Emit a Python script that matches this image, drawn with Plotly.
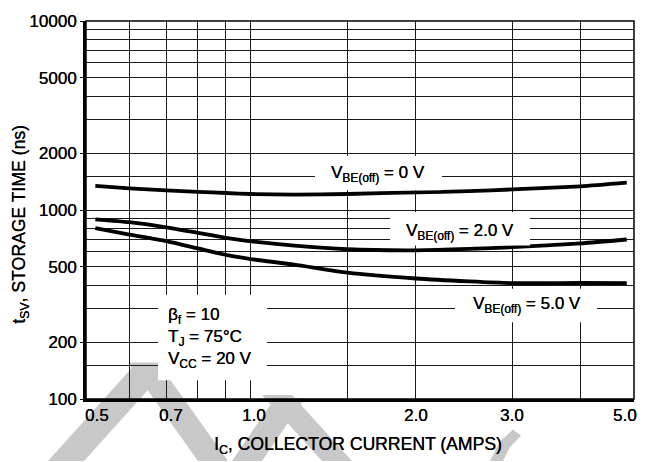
import math
import plotly.graph_objects as go

# Collector current (A) sample points along each storage-time curve
ic_amps = [0.52, 0.6, 0.7, 0.8, 0.9, 1.0, 1.2, 1.5, 2.0, 2.5, 3.0, 4.0, 4.85]

# Storage time t_sv (ns) for each base-emitter turn-off voltage
tsv_vbe_0v = [1340, 1300, 1270, 1248, 1230, 1215, 1205, 1215, 1240, 1258, 1285, 1335, 1395]
tsv_vbe_2v = [893, 862, 810, 757, 712, 683, 648, 620, 612, 622, 636, 666, 698]
tsv_vbe_5v = [803, 741, 684, 626, 579, 550, 514, 466, 434, 419, 410, 411, 410]

# Axis ticks / grid
x_grid = [0.5, 0.6, 0.7, 0.8, 0.9, 1.0, 1.5, 2.0, 3.0, 4.0, 5.0]
x_ticks = [0.5, 0.7, 1.0, 2.0, 3.0, 5.0]
x_ticktext = ["0.5", "0.7", "1.0", "2.0", "3.0", "5.0"]
y_ticks = [100, 200, 500, 1000, 2000, 5000, 10000]
y_ticktext = ["100", "200", "500", "1000", "2000", "5000", "10000"]
y_minor = [150, 300, 400, 600, 700, 800, 900, 1500, 3000, 4000, 6000, 7000, 8000, 9000]

FONT = "Liberation Sans, Arial, sans-serif"
SHADOW = "0.25px 0 0 black"
W, H = 648, 462
L, R, T, B = 86, 14, 15, 63
PW, PH = W - L - R, H - T - B
GRID = "#1a1a1a"


def px(xp, yp):
    """Pixel position on the page -> paper coordinates."""
    return (xp - L) / PW, (H - B - yp) / PH


def font(size=17):
    return dict(family=FONT, size=size, color="black", shadow=SHADOW)


fig = go.Figure()
for ys in (tsv_vbe_0v, tsv_vbe_2v, tsv_vbe_5v):
    fig.add_trace(go.Scatter(
        x=ic_amps, y=ys, mode="lines",
        line=dict(color="black", width=3.8, shape="spline", smoothing=0.6),
        showlegend=False, hoverinfo="skip",
    ))

# light grey watermark strokes behind the grid
wm_polys = [
    [(48, 462), (84, 462), (170, 365), (134, 365)],
    [(128, 362), (158, 362), (228, 462), (198, 462)],
    [(232, 462), (262, 462), (305, 398), (275, 398)],
    [(262, 395), (292, 395), (352, 462), (322, 462)],
    [(490, 462), (503, 462), (510, 448), (521, 436), (513, 430), (500, 442)],
]
shapes = []
for poly in wm_polys:
    pts = [px(a, b) for a, b in poly]
    path = "M " + " L ".join(f"{a:.4f},{b:.4f}" for a, b in pts) + " Z"
    shapes.append(dict(type="path", xref="paper", yref="paper", path=path,
                       fillcolor="#c8c8c8", line=dict(width=0), layer="below"))

# thin frame on top/right
shapes.append(dict(type="rect", xref="paper", yref="paper", x0=0, x1=1, y0=0, y1=1,
                   line=dict(color="black", width=1.5), layer="above"))

annotations = []


def label_box(x0, y0, x1, y1, tx, ty, text, anchor="center"):
    """White box masking the grid, with a text label on top."""
    a, b = px(x0, y0)
    c, d = px(x1, y1)
    shapes.append(dict(type="rect", xref="paper", yref="paper",
                       x0=a, x1=c, y0=d, y1=b, fillcolor="white",
                       line=dict(width=0), layer="above"))
    x, y = px(tx, ty)
    annotations.append(dict(
        xref="paper", yref="paper", x=x, y=y, xanchor=anchor, yanchor="middle",
        text=text, showarrow=False, align="left", font=font(17),
    ))


label_box(315, 152, 442, 187, 378.5, 170, "V<sub>BE(off)</sub> = 0 V")
label_box(390, 209, 530, 243, 460, 229, "V<sub>BE(off)</sub> = 2.0 V")
label_box(455, 287, 597, 321, 527, 304, "V<sub>BE(off)</sub> = 5.0 V")
label_box(158, 293, 267, 380, 166, 337,
          "β<sub>f</sub> = 10<br>T<sub>J</sub> = 75°C<br>V<sub>CC</sub> = 20 V",
          anchor="left")

# x tick labels (end labels pulled inside the frame)
x_shift = [11, 5, 3, 0, 0, -9]
for v, lab, sh in zip(x_ticks, x_ticktext, x_shift):
    annotations.append(dict(
        xref="x", yref="paper", x=math.log10(v), y=px(0, 416)[1],
        xanchor="center", yanchor="middle", xshift=sh,
        text=lab, showarrow=False, font=font(17),
    ))

# axis titles
tx, ty = px(358, 446)
annotations.append(dict(xref="paper", yref="paper", x=tx, y=ty,
                        xanchor="center", yanchor="middle", showarrow=False,
                        text="I<sub>C</sub>, COLLECTOR CURRENT (AMPS)",
                        font=font(17.6)))
tx, ty = px(21, 222)
annotations.append(dict(xref="paper", yref="paper", x=tx, y=ty,
                        xanchor="center", yanchor="middle", showarrow=False,
                        textangle=-90,
                        text="t<sub>SV</sub>, STORAGE TIME (ns)",
                        font=font(17.6)))

fig.update_layout(
    width=W, height=H,
    margin=dict(l=L, r=R, t=T, b=B, pad=0),
    paper_bgcolor="white", plot_bgcolor="rgba(0,0,0,0)",
    shapes=shapes, annotations=annotations,
    font=dict(family=FONT, size=17, color="black"),
    xaxis=dict(
        type="log", range=[math.log10(0.5), math.log10(5.0)],
        tickmode="array", tickvals=x_grid, showticklabels=False,
        showgrid=True, gridcolor=GRID, gridwidth=1.2,
        showline=True, linecolor="black", linewidth=3,
        ticks="", zeroline=False, fixedrange=True,
    ),
    yaxis=dict(
        type="log", range=[2, 4],
        tickmode="array", tickvals=y_ticks, ticktext=y_ticktext,
        showgrid=True, gridcolor=GRID, gridwidth=1.2,
        minor=dict(tickmode="array", tickvals=y_minor, showgrid=True,
                   gridcolor=GRID, gridwidth=1.2, ticks=""),
        showline=True, linecolor="black", linewidth=3,
        ticks="outside", ticklen=3, tickcolor="black", tickwidth=1.2,
        tickfont=font(17),
        zeroline=False, fixedrange=True,
    ),
)

fig.write_html("out.html")
